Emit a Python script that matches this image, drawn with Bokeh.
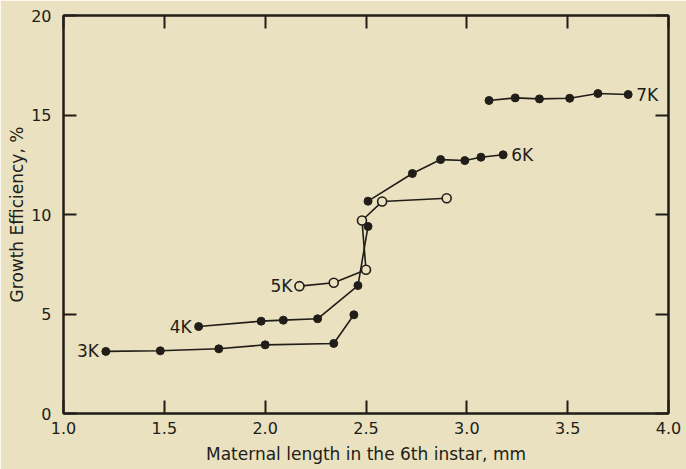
from bokeh.plotting import figure
from bokeh.models import FixedTicker, LinearAxis, CustomJSTickFormatter
from bokeh.embed import file_html
from bokeh.resources import INLINE
from bokeh.core.properties import value

# ---- data ----
x_3k = [1.21, 1.48, 1.77, 2.00, 2.34, 2.44]
y_3k = [3.12, 3.15, 3.25, 3.45, 3.52, 4.96]

x_4k = [1.67, 1.98, 2.09, 2.26, 2.46, 2.51]
y_4k = [4.37, 4.64, 4.69, 4.76, 6.43, 9.40]

x_5k = [2.17, 2.34, 2.50, 2.48, 2.58, 2.90]
y_5k = [6.40, 6.57, 7.22, 9.70, 10.65, 10.82]

x_6k = [2.51, 2.73, 2.87, 2.99, 3.07, 3.18]
y_6k = [10.67, 12.06, 12.76, 12.71, 12.88, 13.00]

x_7k = [3.11, 3.24, 3.36, 3.51, 3.65, 3.80]
y_7k = [15.73, 15.86, 15.81, 15.84, 16.08, 16.03]

x_ticks = [1.0, 1.5, 2.0, 2.5, 3.0, 3.5, 4.0]
y_ticks = [0, 5, 10, 15, 20]

x_title = "Maternal length in the 6th instar, mm"
y_title = "Growth Efficiency, %"

INK = "#211d18"
BG = "#e9e1bf"
FONT = "DejaVu Sans"

p = figure(width=686, height=469, x_range=(1.0, 4.0), y_range=(0, 20),
           output_backend="svg", toolbar_location=None,
           background_fill_color=BG, border_fill_color=BG,
           min_border_left=63, min_border_right=18, min_border_top=15, min_border_bottom=56)
p.grid.visible = False
p.outline_line_color = INK
p.outline_line_width = 2

def style_axis(ax, ticks, show_labels):
    ax.ticker = FixedTicker(ticks=ticks)
    ax.major_tick_in = 13
    ax.major_tick_out = 0
    ax.minor_tick_line_color = None
    ax.axis_line_color = INK
    ax.axis_line_width = 2
    ax.major_tick_line_color = INK
    ax.major_tick_line_width = 2
    ax.major_label_text_font = FONT
    ax.major_label_text_font_size = "16px"
    ax.major_label_text_color = INK if show_labels else None
    ax.axis_label_text_font = FONT
    ax.axis_label_text_font_size = "17px"
    ax.axis_label_text_font_style = "normal"
    ax.axis_label_text_color = INK

style_axis(p.xaxis[0], x_ticks, True)
style_axis(p.yaxis[0], y_ticks, True)
p.xaxis[0].formatter = CustomJSTickFormatter(code="return tick.toFixed(1);")
p.yaxis[0].formatter = CustomJSTickFormatter(code="return tick.toFixed(0);")
p.xaxis[0].axis_label = x_title
p.yaxis[0].axis_label = y_title
p.xaxis[0].major_label_standoff = 8
p.xaxis[0].axis_label_standoff = 7
p.yaxis[0].major_label_standoff = 12
p.yaxis[0].axis_label_standoff = 1

ra = LinearAxis(formatter=CustomJSTickFormatter(code="return '';"))
style_axis(ra, y_ticks, False)
ra.major_label_standoff = 0
p.add_layout(ra, "right")
ta = LinearAxis(formatter=CustomJSTickFormatter(code="return '';"))
style_axis(ta, x_ticks, False)
ta.major_label_standoff = 0
p.add_layout(ta, "above")

series = [(x_3k, y_3k, True), (x_4k, y_4k, True), (x_5k, y_5k, False),
          (x_6k, y_6k, True), (x_7k, y_7k, True)]

for xs, ys, filled in series:
    p.line(xs, ys, line_color=INK, line_width=1.6)
for xs, ys, filled in series:
    if filled:
        p.scatter(xs, ys, marker="circle", size=8, fill_color=INK, line_color=INK)
    else:
        p.scatter(xs, ys, marker="circle", size=9, fill_color=BG, line_color=INK, line_width=1.6)

# series labels, anchored at first or last point
names_left = ["3K", "4K", "5K"]
lx = [x_3k[0], x_4k[0], x_5k[0]]
ly = [y_3k[0], y_4k[0], y_5k[0]]
p.text(x=lx, y=ly, text=names_left, x_offset=-7, text_align="right",
       text_baseline="middle", text_font=value(FONT), text_font_size="17px", text_color=INK)
names_right = ["6K", "7K"]
rx = [x_6k[-1], x_7k[-1]]
ry = [y_6k[-1], y_7k[-1]]
p.text(x=rx, y=ry, text=names_right, x_offset=8, text_align="left",
       text_baseline="middle", text_font=value(FONT), text_font_size="17px", text_color=INK)

open("out.html", "w").write(file_html(p, INLINE))
